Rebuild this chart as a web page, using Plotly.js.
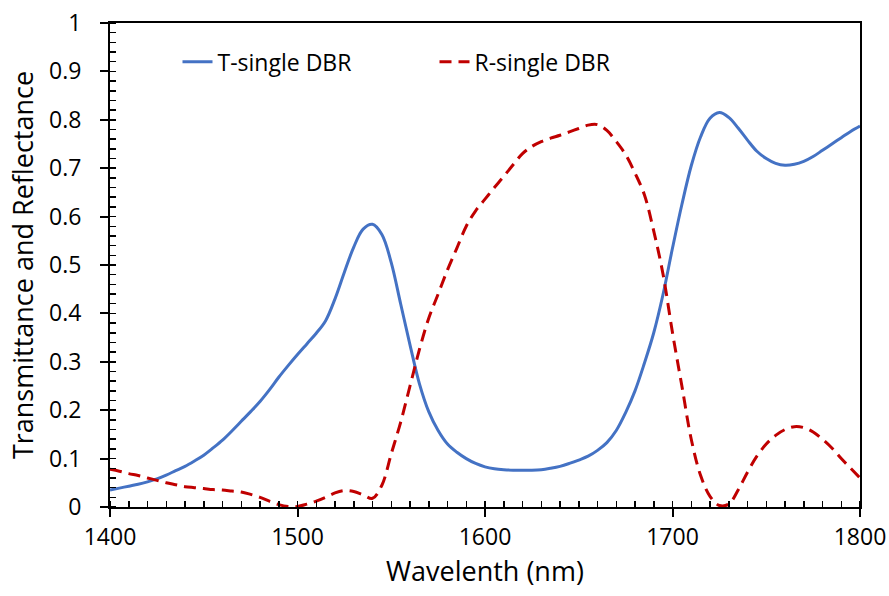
<!DOCTYPE html>
<html>
<head>
<meta charset="utf-8">
<script src="https://cdn.plot.ly/plotly-3.0.1.min.js"></script>
<style>html,body{margin:0;padding:0;background:#fff;}#chart{width:889px;height:596px;}</style>
</head>
<body>
<div id="chart"></div>
<script>
// Wavelength grid (nm), 5 nm steps
const wavelength = [1400,1405,1410,1415,1420,1425,1430,1435,1440,1445,1450,1455,1460,1465,1470,1475,1480,1485,1490,1495,
  1500,1505,1510,1515,1520,1525,1530,1535,1540,1545,1550,1555,1560,1565,1570,1575,1580,1585,1590,1595,
  1600,1605,1610,1615,1620,1625,1630,1635,1640,1645,1650,1655,1660,1665,1670,1675,1680,1685,1690,1695,
  1700,1705,1710,1715,1720,1725,1730,1735,1740,1745,1750,1755,1760,1765,1770,1775,1780,1785,1790,1795,1800];
// Transmittance (T-single DBR)
const T = [0.035,0.039,0.043,0.047,0.052,0.058,0.066,0.075,0.084,0.095,0.107,0.122,0.138,0.157,0.177,0.197,0.218,0.242,0.268,0.292,
  0.315,0.337,0.359,0.385,0.43,0.485,0.537,0.574,0.584,0.563,0.505,0.42,0.335,0.255,0.197,0.158,0.13,0.113,0.1,0.09,
  0.083,0.079,0.077,0.076,0.076,0.076,0.077,0.08,0.084,0.09,0.097,0.105,0.117,0.133,0.158,0.195,0.24,0.297,0.36,0.44,
  0.535,0.625,0.705,0.765,0.803,0.815,0.805,0.783,0.758,0.735,0.72,0.71,0.706,0.708,0.714,0.724,0.737,0.75,0.763,0.776,0.787];
// Reflectance (R-single DBR)
const R = [0.078,0.074,0.069,0.065,0.06,0.055,0.05,0.046,0.042,0.04,0.038,0.036,0.035,0.033,0.031,0.026,0.02,0.012,0.005,0.001,
  0.001,0.006,0.012,0.02,0.029,0.034,0.032,0.025,0.018,0.045,0.11,0.175,0.25,0.325,0.39,0.44,0.49,0.535,0.58,0.612,
  0.636,0.66,0.683,0.707,0.73,0.745,0.755,0.762,0.768,0.775,0.782,0.789,0.79,0.778,0.755,0.728,0.69,0.645,0.57,0.48,
  0.36,0.25,0.14,0.065,0.022,0.003,0.006,0.035,0.072,0.105,0.13,0.148,0.16,0.166,0.164,0.155,0.14,0.122,0.1,0.08,0.06];

const FAM = "Open Sans, Noto Sans, sans-serif";

const traces = [
  {x: wavelength, y: T, name: "T-single DBR", type: "scatter", mode: "lines",
   line: {color: "#4472C4", width: 3, shape: "spline", smoothing: 1}},
  {x: wavelength, y: R, name: "R-single DBR", type: "scatter", mode: "lines",
   line: {color: "#C00000", width: 3, dash: "12px,7px", shape: "spline", smoothing: 1}}
];

const layout = {
  width: 889, height: 596,
  margin: {l: 110, r: 29, t: 23, b: 89},
  paper_bgcolor: "#fff", plot_bgcolor: "#fff",
  font: {family: FAM, size: 23, color: "#000"},
  showlegend: true,
  legend: {orientation: "h", x: 0.09, y: 0.92, xanchor: "left", yanchor: "middle",
           entrywidth: 212, bgcolor: "rgba(0,0,0,0)", font: {family: FAM, size: 23, color: "#000"}},
  xaxis: {
    range: [1400, 1800], tickvals: [1400,1500,1600,1700,1800],
    showgrid: false, zeroline: false,
    showline: true, linecolor: "#000", linewidth: 2, mirror: true,
    ticks: "outside", ticklen: 8, tickwidth: 2, tickcolor: "#000",
    minor: {dtick: 10, ticks: "inside", ticklen: 6, tickwidth: 1.5, tickcolor: "#000"},
    tickfont: {family: FAM, size: 23}, ticklabelstandoff: 0,
    title: {text: "Wavelenth (nm)", font: {family: FAM, size: 27}, standoff: 10}
  },
  yaxis: {
    range: [0, 1], tickvals: [0,0.1,0.2,0.3,0.4,0.5,0.6,0.7,0.8,0.9,1],
    ticktext: ["0","0.1","0.2","0.3","0.4","0.5","0.6","0.7","0.8","0.9","1"],
    showgrid: false, zeroline: false,
    showline: true, linecolor: "#000", linewidth: 2, mirror: true,
    ticks: "outside", ticklen: 8, tickwidth: 2, tickcolor: "#000",
    minor: {dtick: 0.02, ticks: "inside", ticklen: 6, tickwidth: 1.5, tickcolor: "#000"},
    tickfont: {family: FAM, size: 23}, ticklabelstandoff: 14,
    title: {text: "Transmittance and Reflectance", font: {family: FAM, size: 27}, standoff: 8}
  }
};

Plotly.newPlot("chart", traces, layout, {displayModeBar: false, staticPlot: true});
</script>
</body>
</html>
